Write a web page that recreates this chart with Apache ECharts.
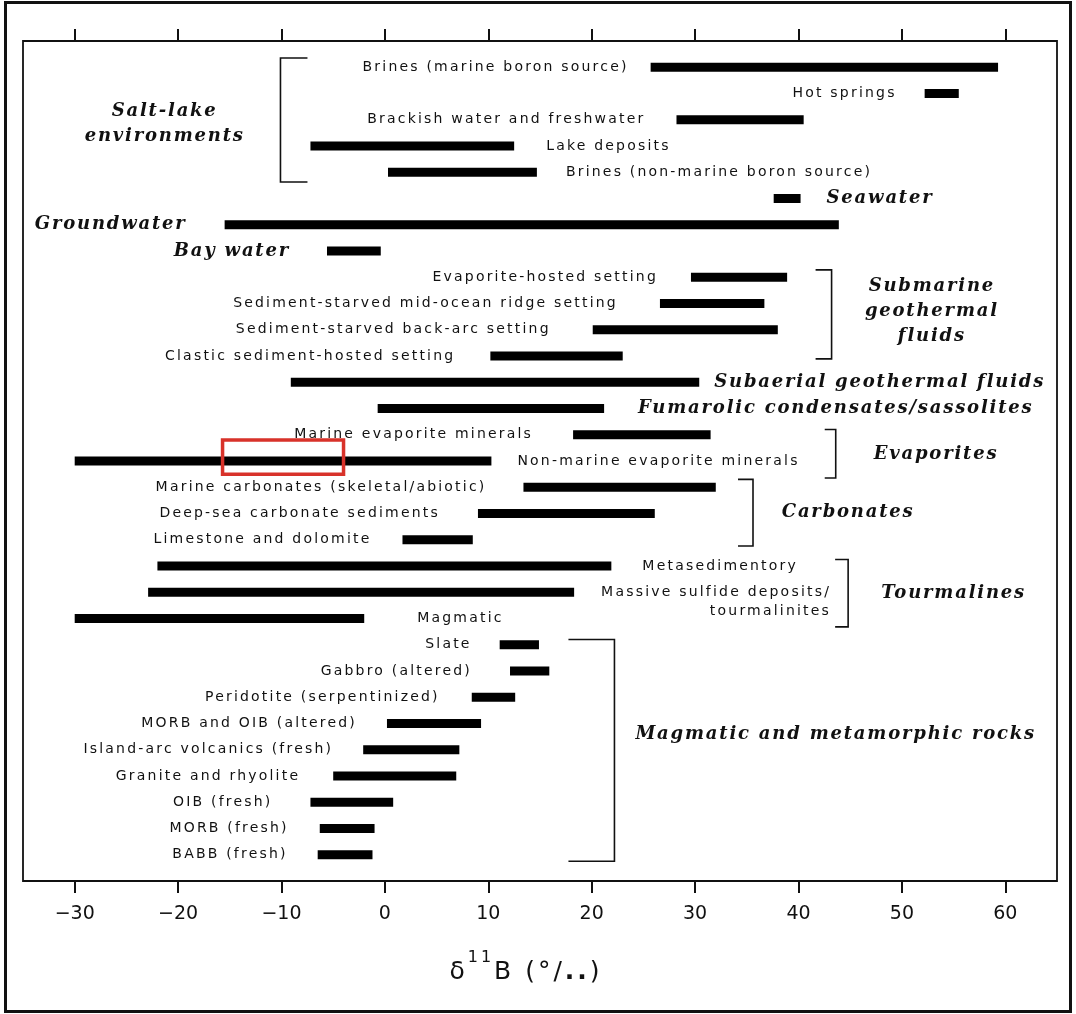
<!DOCTYPE html>
<html><head><meta charset="utf-8">
<script src="https://cdn.jsdelivr.net/npm/echarts@6/dist/echarts.min.js"></script>
<style>html,body{margin:0;padding:0;background:#fff}#chart{width:1076px;height:1014px}</style>
</head><body><div id="chart"></div>
<script>
// ---------- data ----------
const categories = [
  "Brines (marine boron source)",
  "Hot springs",
  "Brackish water and freshwater",
  "Lake deposits",
  "Brines (non-marine boron source)",
  "Seawater",
  "Groundwater",
  "Bay water",
  "Evaporite-hosted setting",
  "Sediment-starved mid-ocean ridge setting",
  "Sediment-starved back-arc setting",
  "Clastic sediment-hosted setting",
  "Subaerial geothermal fluids",
  "Fumarolic condensates/sassolites",
  "Marine evaporite minerals",
  "Non-marine evaporite minerals",
  "Marine carbonates (skeletal/abiotic)",
  "Deep-sea carbonate sediments",
  "Limestone and dolomite",
  "Metasedimentory",
  "Massive sulfide deposits/\ntourmalinites",
  "Magmatic",
  "Slate",
  "Gabbro (altered)",
  "Peridotite (serpentinized)",
  "MORB and OIB (altered)",
  "Island-arc volcanics (fresh)",
  "Granite and rhyolite",
  "OIB (fresh)",
  "MORB (fresh)",
  "BABB (fresh)"
];
const lowValues  = [25.7, 52.2, 28.2, -7.2, 0.3, 37.6, -15.5, -5.6, 29.6, 26.6, 20.1, 10.2, -9.1, -0.7, 18.2, -30.0, 13.4, 9.0, 1.7, -22.0, -22.9, -30.0, 11.1, 12.1, 8.4, 0.2, -2.1, -5.0, -7.2, -6.3, -6.5];
const highValues = [59.3, 55.5, 40.5, 12.5, 14.7, 40.2, 43.9, -0.4, 38.9, 36.7, 38.0, 23.0, 30.4, 21.2, 31.5, 10.3, 32.0, 26.1, 8.5, 21.9, 18.3, -2.0, 14.9, 15.9, 12.6, 9.3, 7.2, 6.9, 0.8, -1.0, -1.2];
const xTicks = [-30, -20, -10, 0, 10, 20, 30, 40, 50, 60];
const groupNames = ["Salt-lake\nenvironments", "Submarine\ngeothermal\nfluids", "Evaporites", "Carbonates", "Tourmalines", "Magmatic and metamorphic rocks"];

// ---------- layout (annotation placement) ----------
const labelSide = ['L','L','L','R','R','R','L','L','L','L','L','L','R','R','L','R','L','L','L','R','R','R','L','L','L','L','L','L','L','L','L'];
const labelGap  = [22,28,31,32,29,26,38,37,33,42,42,35,15,34,40,26,37,38,31,31,27,53,28,38,32,30,30,33,38,31,30];
const italicRows = [5, 6, 7, 12, 13];
// brackets: [x value, row from, row to, arm px, direction]
const brackets = [
  [-10.1, -0.35, 4.37, 27, 'L'],
  [43.2, 7.72, 11.11, 16, 'R'],
  [43.6, 13.8, 15.65, 11, 'R'],
  [35.6, 15.7, 18.24, 15, 'R'],
  [44.8, 18.75, 21.32, 13, 'R'],
  [22.2, 21.8, 30.25, 46, 'R']
];
// group label anchors: [x value, row]
const groupAnchors = [[-21.3, 2.15], [52.9, 9.3], [53.3, 14.75], [44.8, 16.94], [55.0, 20.05], [43.6, 25.4]];
// highlight box drawn over the figure: [x from, x to, row from, row to]
const highlightBox = [-15.7, -4.0, 14.2, 15.5];

// The original lettering is widely tracked; the font families below carry a
// tracking marker (LSPnn = nn/10 px) that is applied as canvas letterSpacing.
(function () {
  const proto = window.CanvasRenderingContext2D && CanvasRenderingContext2D.prototype;
  if (!proto || !('letterSpacing' in proto)) return;
  const desc = Object.getOwnPropertyDescriptor(proto, 'font');
  if (!desc || !desc.set) return;
  Object.defineProperty(proto, 'font', {
    configurable: true, enumerable: desc.enumerable,
    get: function () { return desc.get.call(this); },
    set: function (v) {
      desc.set.call(this, v);
      const m = /LSP(\d+)/.exec(v || '');
      this.letterSpacing = m ? (m[1] / 10) + 'px' : '0px';
    }
  });
})();

const SANS = '"DejaVu Sans", sans-serif';
const LABEL_FAMILY = 'LSP22, "DejaVu Sans", sans-serif';
const ITALIC_FAMILY = 'LSP18, "DejaVu Serif", serif';
const TITLE_FAMILY = 'LSP30, "DejaVu Sans", sans-serif';
const labelFont = '14px ' + LABEL_FAMILY;
const italicFont = 'italic bold 18px ' + ITALIC_FAMILY;

const mctx = document.createElement('canvas').getContext('2d');
function textWidth(t, f) { mctx.font = f; return mctx.measureText(t).width; }

const barData = categories.map((c, i) => [lowValues[i], highValues[i], i]);

function renderBar(params, api) {
  const i = params.dataIndex;
  const row = api.value(2);
  const p0 = api.coord([api.value(0), row]);
  const p1 = api.coord([api.value(1), row]);
  const h = 9;
  const children = [{
    type: 'rect',
    shape: { x: p0[0], y: p0[1] - h / 2, width: p1[0] - p0[0], height: h },
    style: { fill: '#000' }
  }];
  const isItalic = italicRows.indexOf(i) >= 0;
  const font = isItalic ? italicFont : labelFont;
  const text = categories[i];
  const lines = text.split('\n');
  if (lines.length > 1) {
    const w = textWidth(lines[0], font);
    const x = p1[0] + labelGap[i] + w;
    children.push({
      type: 'text', x: x, y: p0[1] - 9.5,
      style: { text: text, font: font, fill: '#111', align: 'right', verticalAlign: 'top', lineHeight: 19 }
    });
  } else {
    const left = labelSide[i] === 'L';
    children.push({
      type: 'text', x: left ? p0[0] - labelGap[i] : p1[0] + labelGap[i], y: p0[1],
      style: { text: text, font: font, fill: '#111', align: left ? 'right' : 'left', verticalAlign: 'middle' }
    });
  }
  return { type: 'group', children: children };
}

function renderBracket(params, api) {
  const a = api.coord([api.value(0), api.value(1)]);
  const b = api.coord([api.value(0), api.value(2)]);
  const arm = api.value(3);
  const d = brackets[params.dataIndex][4] === 'L' ? 1 : -1;
  return {
    type: 'polyline',
    shape: { points: [[a[0] + d * arm, a[1]], [a[0], a[1]], [b[0], b[1]], [b[0] + d * arm, b[1]]] },
    style: { stroke: '#111', lineWidth: 1.6, fill: null }
  };
}

function renderGroup(params, api) {
  const p = api.coord([api.value(0), api.value(1)]);
  return {
    type: 'text', x: p[0], y: p[1],
    style: { text: groupNames[params.dataIndex], font: italicFont, fill: '#111', align: 'center', verticalAlign: 'middle', lineHeight: 25 }
  };
}

function renderHighlight(params, api) {
  const a = api.coord([api.value(0), api.value(2)]);
  const b = api.coord([api.value(1), api.value(3)]);
  return {
    type: 'rect',
    shape: { x: a[0], y: a[1], width: b[0] - a[0], height: b[1] - a[1] },
    style: { stroke: '#d8322a', lineWidth: 3.5, fill: null }
  };
}

const chart = echarts.init(document.getElementById('chart'), null, { renderer: 'canvas' });
const axisCommon = {
  type: 'value', min: -35, max: 65,
  splitLine: { show: false },
  axisLine: { show: false, onZero: false },
  axisTick: { show: true, inside: false, length: 12, customValues: xTicks, lineStyle: { color: '#111', width: 2 } }
};
chart.setOption({
  animation: false,
  backgroundColor: '#fff',
  grid: { left: 23, right: 19, top: 41, bottom: 133, show: true, borderColor: '#111', borderWidth: 1.8, backgroundColor: 'transparent' },
  xAxis: [
    Object.assign({}, axisCommon, {
      position: 'bottom',
      axisLabel: {
        show: true, customValues: xTicks, margin: 24, fontSize: 19, fontFamily: SANS, color: '#111',
        formatter: v => String(v).replace('-', '\u2212')
      },
      name: '{a|\u03b4}{s|11}{a|B (\u00b0/}{d|..}{a|)}',
      nameLocation: 'middle', nameGap: 67,
      nameTextStyle: { padding: [0, 28, 0, 0], rich: {
        a: { fontSize: 25, fontFamily: TITLE_FAMILY, color: '#111', lineHeight: 48 },
        s: { fontSize: 16, fontFamily: TITLE_FAMILY, color: '#111', lineHeight: 10, verticalAlign: 'top' },
        d: { fontSize: 25, fontWeight: 'bold', fontFamily: TITLE_FAMILY, color: '#111', lineHeight: 48 }
      } }
    }),
    Object.assign({}, axisCommon, { position: 'top', axisLabel: { show: false } })
  ],
  yAxis: { type: 'value', min: -1, max: 31, inverse: true, show: false, axisLine: { onZero: false } },
  graphic: [{
    type: 'rect', shape: { x: 5.5, y: 2.5, width: 1065, height: 1009 },
    style: { stroke: '#111', lineWidth: 3, fill: null }, silent: true
  }],
  series: [
    { type: 'custom', name: 'ranges', renderItem: renderBar, data: barData, encode: { x: [0, 1], y: 2 }, clip: false },
    { type: 'custom', name: 'brackets', renderItem: renderBracket, data: brackets.map(b => b.slice(0, 4)), encode: { x: 0, y: [1, 2] }, clip: false, silent: true },
    { type: 'custom', name: 'groups', renderItem: renderGroup, data: groupAnchors, encode: { x: 0, y: 1 }, clip: false, silent: true },
    { type: 'custom', name: 'highlight', renderItem: renderHighlight, data: [highlightBox], encode: { x: [0, 1], y: [2, 3] }, clip: false, silent: true, z: 10 }
  ]
});
</script>
</body></html>
